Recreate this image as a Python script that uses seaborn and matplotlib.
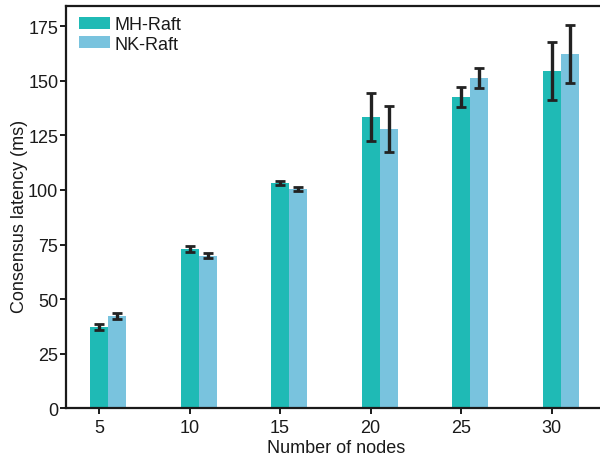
import matplotlib
matplotlib.use('Agg')
import matplotlib.pyplot as plt
import seaborn as sns
import pandas as pd
import numpy as np

nodes = [5, 10, 15, 20, 25, 30]
mh_latency = [37.3, 73.0, 103.2, 133.4, 142.5, 154.4]
mh_err = [1.4, 1.3, 1.0, 11.0, 4.6, 13.1]
nk_latency = [42.3, 69.9, 100.5, 127.9, 151.2, 162.2]
nk_err = [1.5, 1.0, 1.0, 10.7, 4.6, 13.1]
methods = ['MH-Raft', 'NK-Raft']
colors = ['#1fbab5', '#79c3de']

df = pd.DataFrame({
    'nodes': nodes * 2,
    'latency': mh_latency + nk_latency,
    'method': [methods[0]] * len(nodes) + [methods[1]] * len(nodes),
})
errs = {methods[0]: mh_err, methods[1]: nk_err}

sns.set_style('ticks')
plt.rcParams['font.family'] = ['Liberation Sans', 'DejaVu Sans']

fig = plt.figure(figsize=(6, 4.6), dpi=100)
ax = fig.add_axes([0.11, 0.110, 0.90, 0.874])

sns.barplot(data=df, x='nodes', y='latency', hue='method', palette=colors,
            width=0.4, errorbar=None, saturation=1, linewidth=0, ax=ax)

# error bars on top of each bar
for cont, m in zip(ax.containers, methods):
    xs = [p.get_x() + p.get_width() / 2 for p in cont.patches]
    hs = [p.get_height() for p in cont.patches]
    ax.errorbar(xs, hs, yerr=errs[m], fmt='none', ecolor='#222222',
                elinewidth=2.4, capsize=3.6, capthick=2.0, zorder=3)

ax.set_xticks(np.arange(len(nodes)) - 0.1)
ax.set_xticklabels([str(n) for n in nodes])
ax.set_xlim(-0.465, 5.5)
ax.set_ylim(0, 184)
ax.set_yticks(range(0, 176, 25))

for s in ax.spines.values():
    s.set_linewidth(1.6)
    s.set_color('#1a1a1a')
ax.tick_params(axis='both', labelsize=13, width=1.4, length=4.5, color='#1a1a1a',
               labelcolor='#1a1a1a')
ax.tick_params(axis='y', pad=1)
ax.tick_params(axis='x', pad=3)
ax.set_xlabel('Number of nodes', fontsize=13, labelpad=2, color='#1a1a1a')
ax.set_ylabel('Consensus latency (ms)', fontsize=13, color='#1a1a1a')
ax.yaxis.set_label_coords(-0.07, 0.48)

ax.legend(loc='upper left', frameon=False, fontsize=13, handlelength=1.7,
          handleheight=0.6, handletextpad=0.25, labelspacing=0.12,
          borderaxespad=0.0, borderpad=0.0, bbox_to_anchor=(0.024, 0.975),
          labelcolor='#1a1a1a')

fig.savefig('out.png', dpi=100)
